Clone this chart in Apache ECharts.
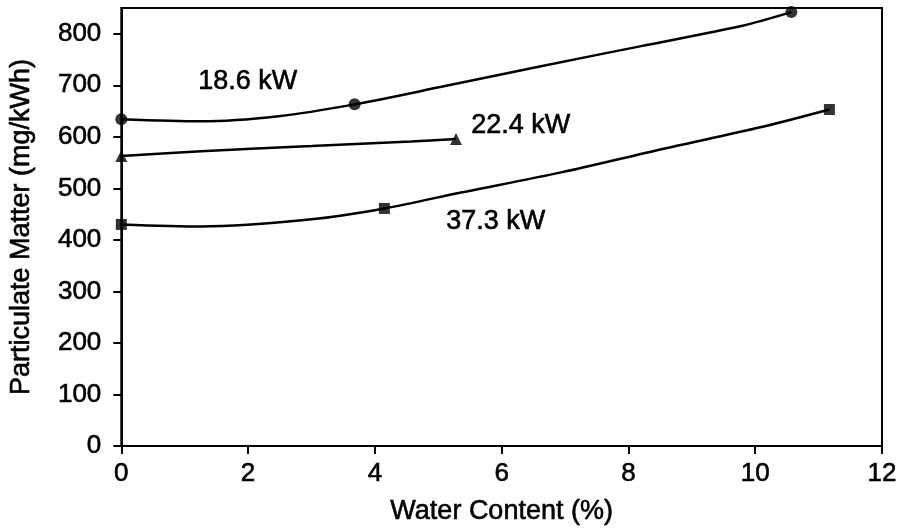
<!DOCTYPE html>
<html>
<head>
<meta charset="utf-8">
<script src="https://cdn.jsdelivr.net/npm/echarts@6/dist/echarts.min.js"></script>
<style>
  html, body { margin: 0; padding: 0; background: #fff; }
  #chart { width: 903px; height: 531px; }
</style>
</head>
<body>
<div id="chart"></div>
<script>
// tick labels
var xTicks = [0, 2, 4, 6, 8, 10, 12];
var yTicks = [0, 100, 200, 300, 400, 500, 600, 700, 800];

// measured points (marker positions)
var p18x = [0, 3.68, 10.57];
var p18y = [634, 663, 842];
var p22x = [0, 5.28];
var p22y = [563, 596];
var p37x = [0, 4.15, 11.17];
var p37y = [430, 461, 653];

// fitted curves
var c18x = [0, 1.26, 2.48, 3.68, 5.05, 6.62, 8.2, 9.78, 10.57];
var c18y = [634, 630, 640, 663, 697, 737, 776, 815, 842];
var c22x = [0, 1.26, 3.0, 4.57, 5.28];
var c22y = [563, 572, 582, 591, 596];
var c37x = [0, 1.26, 3.0, 4.15, 5.36, 6.94, 8.52, 10.1, 11.17];
var c37y = [430, 426, 440, 461, 492, 531, 576, 619, 653];

var seriesNames = ['18.6 kW', '22.4 kW', '37.3 kW'];

function pairs(xs, ys) {
  return xs.map(function (x, i) { return [x, ys[i]]; });
}

var font = 'Liberation Sans, Arial, Helvetica, sans-serif';
// scanned text looks heavy, thicken it a little
var ink = { color: '#000', fontFamily: font, textBorderColor: '#000', textBorderWidth: 0.6 };

function curve(name, xs, ys) {
  return {
    name: name,
    type: 'line',
    data: pairs(xs, ys),
    smooth: 0.3,
    symbol: 'none',
    lineStyle: { color: '#000', width: 2.5 },
    z: 2
  };
}
function marks(name, xs, ys, sym, size) {
  return {
    name: name,
    type: 'scatter',
    data: pairs(xs, ys),
    symbol: sym,
    symbolSize: size,
    itemStyle: { color: '#000' },
    z: 3
  };
}

var chart = echarts.init(document.getElementById('chart'));
chart.setOption({
  animation: false,
  backgroundColor: '#fff',
  grid: {
    left: 120, right: 21, top: 8, bottom: 85,
    show: true, borderColor: '#000', borderWidth: 2
  },
  xAxis: {
    type: 'value',
    min: 0, max: 12, interval: 2,
    name: 'Water Content (%)',
    nameLocation: 'middle',
    nameGap: 52,
    nameTextStyle: Object.assign({ fontSize: 27 }, ink),
    axisLine: { lineStyle: { color: '#000', width: 2 } },
    axisTick: { show: true, length: 8, lineStyle: { color: '#000', width: 2 }, customValues: xTicks },
    axisLabel: Object.assign({ fontSize: 26, margin: 15, customValues: xTicks }, ink),
    splitLine: { show: false }
  },
  yAxis: {
    type: 'value',
    min: 0, max: 850, interval: 100,
    name: 'Particulate Matter (mg/kWh)',
    nameLocation: 'middle',
    nameGap: 86,
    nameTextStyle: Object.assign({ fontSize: 27 }, ink),
    axisLine: { lineStyle: { color: '#000', width: 2 } },
    axisTick: { show: true, length: 8, lineStyle: { color: '#000', width: 2 }, customValues: yTicks },
    axisLabel: Object.assign({ fontSize: 26, margin: 20, customValues: yTicks }, ink),
    splitLine: { show: false }
  },
  graphic: [
    { type: 'text', left: 198, top: 68, style: { text: seriesNames[0], font: '27px ' + font, fill: '#000', stroke: '#000', lineWidth: 0.6 } },
    { type: 'text', left: 471, top: 112, style: { text: seriesNames[1], font: '27px ' + font, fill: '#000', stroke: '#000', lineWidth: 0.6 } },
    { type: 'text', left: 446, top: 208, style: { text: seriesNames[2], font: '27px ' + font, fill: '#000', stroke: '#000', lineWidth: 0.6 } }
  ],
  series: [
    curve(seriesNames[0], c18x, c18y),
    curve(seriesNames[1], c22x, c22y),
    curve(seriesNames[2], c37x, c37y),
    marks(seriesNames[0], p18x, p18y, 'circle', 12),
    marks(seriesNames[1], p22x, p22y, 'triangle', 12),
    marks(seriesNames[2], p37x, p37y, 'rect', 11)
  ]
});
</script>
</body>
</html>
